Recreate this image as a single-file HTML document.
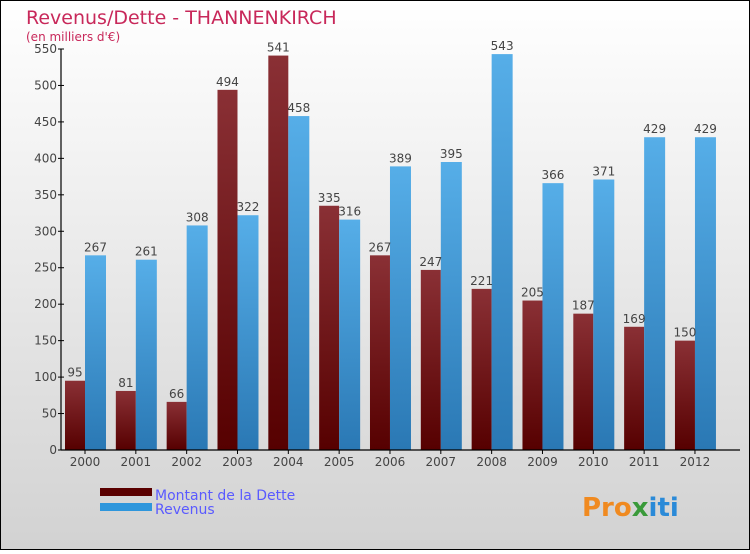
<!DOCTYPE html>
<html><head><meta charset="utf-8"><style>
body{margin:0;width:750px;height:550px;overflow:hidden;font-family:"DejaVu Sans","Liberation Sans",sans-serif}
</style></head><body>
<svg id="c" width="750" height="550" xmlns="http://www.w3.org/2000/svg">
<defs>
<linearGradient id="bg" x1="0" y1="0" x2="0" y2="1"><stop offset="0" stop-color="#ffffff"/><stop offset="1" stop-color="#d2d2d2"/></linearGradient>
<linearGradient id="gd" x1="0" y1="0" x2="0" y2="1"><stop offset="0" stop-color="#8a3035"/><stop offset="1" stop-color="#560000"/></linearGradient>
<linearGradient id="gr" x1="0" y1="0" x2="0" y2="1"><stop offset="0" stop-color="#56aee8"/><stop offset="1" stop-color="#2a78b4"/></linearGradient>
</defs>
<rect x="0.5" y="0.5" width="749" height="549" fill="url(#bg)" stroke="#000"/>
<text x="26" y="24" font-size="19" fill="#c8285a">Revenus/Dette - THANNENKIRCH</text>
<text x="26" y="41" font-size="12" fill="#c8285a">(en milliers d'€)</text>
<g id="bars"></g>
<g id="axes"></g>
<rect x="100" y="488" width="52" height="8" fill="#5a0000"/>
<text x="155" y="500" font-size="14" fill="#5a5aff">Montant de la Dette</text>
<rect x="100" y="503" width="52" height="8" fill="#2e96dc"/>
<text x="155" y="514" font-size="14" fill="#5a5aff">Revenus</text>
<text x="582" y="516" font-size="26" font-weight="bold" fill="#f08a20">Pro<tspan fill="#3a9a3a">x</tspan><tspan fill="#2a8ad8">iti</tspan></text>
</svg>
<script>
const years=["2000","2001","2002","2003","2004","2005","2006","2007","2008","2009","2010","2011","2012"];
const dette=[95,81,66,494,541,335,267,247,221,205,187,169,150];
const revenus=[267,261,308,322,458,316,389,395,543,366,371,429,429];
const ticks=[0,50,100,150,200,250,300,350,400,450,500,550];
const NS="http://www.w3.org/2000/svg";
const y0=450,ppu=401/550;
const Y=v=>y0-v*ppu;
const X=i=>85+i*50.83;
function mk(t,a,p){const e=document.createElementNS(NS,t);for(const k in a)e.setAttribute(k,a[k]);p.appendChild(e);return e;}
const bars=document.getElementById('bars'),axes=document.getElementById('axes');
years.forEach((yr,i)=>{
  const cx=X(i);
  const d=mk('rect',{x:cx-20,y:Y(dette[i]),width:20,height:y0-Y(dette[i]),fill:'url(#gd)'},bars);
  
  
  const r=mk('rect',{x:cx,y:Y(revenus[i]),width:21,height:y0-Y(revenus[i]),fill:'url(#gr)'},bars);
  
  
  const t1=mk('text',{x:cx-10,y:Y(dette[i])-4,'font-size':12,'text-anchor':'middle',fill:'#444'},bars);t1.textContent=dette[i];
  
  
  const t2=mk('text',{x:cx+10.5,y:Y(revenus[i])-4,'font-size':12,'text-anchor':'middle',fill:'#444'},bars);t2.textContent=revenus[i];
  
  
  mk('line',{x1:cx,x2:cx,y1:y0,y2:y0+4,stroke:'#000'},axes);
  const xl=mk('text',{x:cx,y:y0+16,'font-size':12,'text-anchor':'middle',fill:'#444'},axes);xl.textContent=yr;
  
  
});
mk('line',{x1:61,x2:61,y1:Y(550),y2:y0,stroke:'#000','stroke-width':1.2},axes);
mk('line',{x1:61,x2:740,y1:y0,y2:y0,stroke:'#000','stroke-width':1.2},axes);
ticks.forEach(v=>{
  mk('line',{x1:58,x2:64,y1:Y(v),y2:Y(v),stroke:'#000'},axes);
  const t=mk('text',{x:57,y:Y(v)+4,'font-size':12,'text-anchor':'end',fill:'#444'},axes);t.textContent=v;
  
  
});
</script>
</body></html>
